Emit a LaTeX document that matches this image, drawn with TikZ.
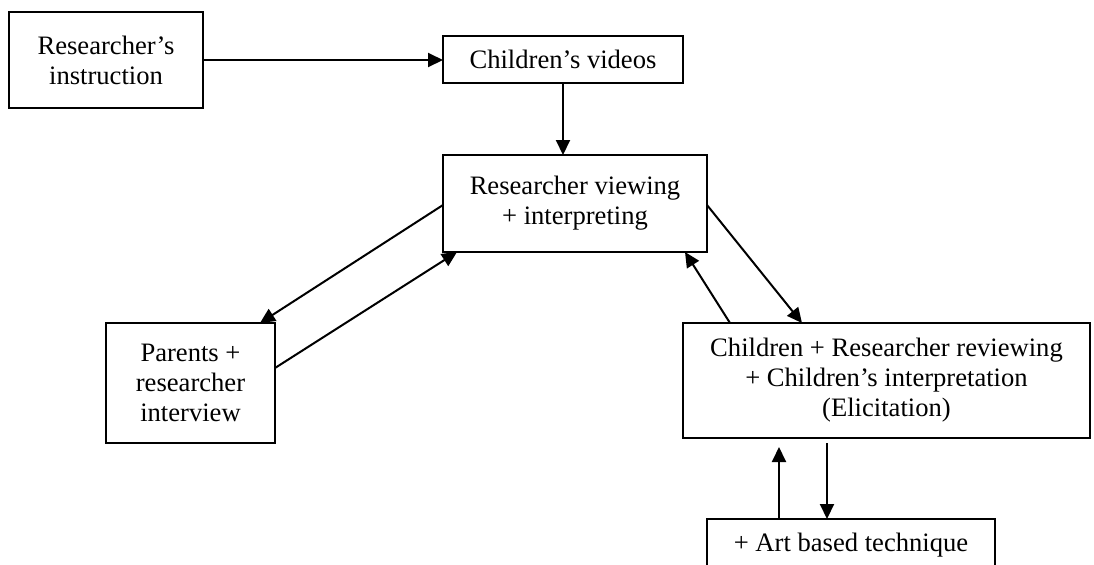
\documentclass[tikz,border=0pt]{standalone}
\usepackage{fontspec}
\setmainfont{Liberation Serif}
\usepackage{tikz}
\usetikzlibrary{arrows.meta}
\tikzstyle{stage}=[draw, line width=1.1pt, inner sep=0, outer sep=0, align=center,
                   font=\fontsize{13.3}{15}\selectfont]
\tikzstyle{flow}=[line width=1pt, -{Triangle[length=7.5pt, width=7pt]}]
\tikzstyle{study}=[x=0.5pt, y=-0.5pt,
                   % Fix the page to the size of the scan.
                   execute at begin picture={\clip (0, 0) rectangle (1094, 564);}]

\begin{document}
\begin{tikzpicture}[study]
        \node[stage, minimum width=97pt, minimum height=48pt]     (instr) at (106, 60) {Researcher’s\\instruction};
        \node[stage, minimum width=120pt, minimum height=23.5pt]  (videos) at (563, 59.5) {Children’s videos};
        \node[stage, minimum width=132pt, minimum height=48.5pt]  (viewing) at (575, 203.5) {Researcher viewing\\+ interpreting};
        \node[stage, minimum width=84.5pt, minimum height=60pt]   (parents) at (190.5, 383) {Parents +\\researcher\\interview};
        \node[stage, minimum width=203.5pt, minimum height=57.5pt] (review) at (886.5, 380.5) {Children + Researcher reviewing\\+ Children’s interpretation\\(Elicitation)};
        \node[stage, minimum width=144pt, minimum height=26pt]    (art) at (851, 545) {+ Art based technique};
        \draw[flow] (instr.east) -- (instr.east -| videos.west);
        \draw[flow] (videos.south) -- (videos.south |- viewing.north);
        \draw[flow] ([yshift=-0.75pt]viewing.west) -- ([xshift=-7.5pt]parents.north east);
        \draw[flow] ([yshift=7.5pt]parents.east) -- ([xshift=7pt]viewing.south west);
        \draw[flow] ([yshift=-0.75pt]viewing.east) -- ([xshift=59.5pt]review.north west);
        \draw[flow] ([xshift=23.5pt]review.north west) -- ([xshift=-11pt]viewing.south east);
        \draw[flow, shorten <=2.5pt] ([xshift=-12pt]art.north |- review.south) -- ([xshift=-12pt]art.north);
        \draw[flow, shorten >=4.5pt] ([xshift=-36pt]art.north) -- ([xshift=-36pt]art.north |- review.south);
    \end{tikzpicture}
\end{document}
